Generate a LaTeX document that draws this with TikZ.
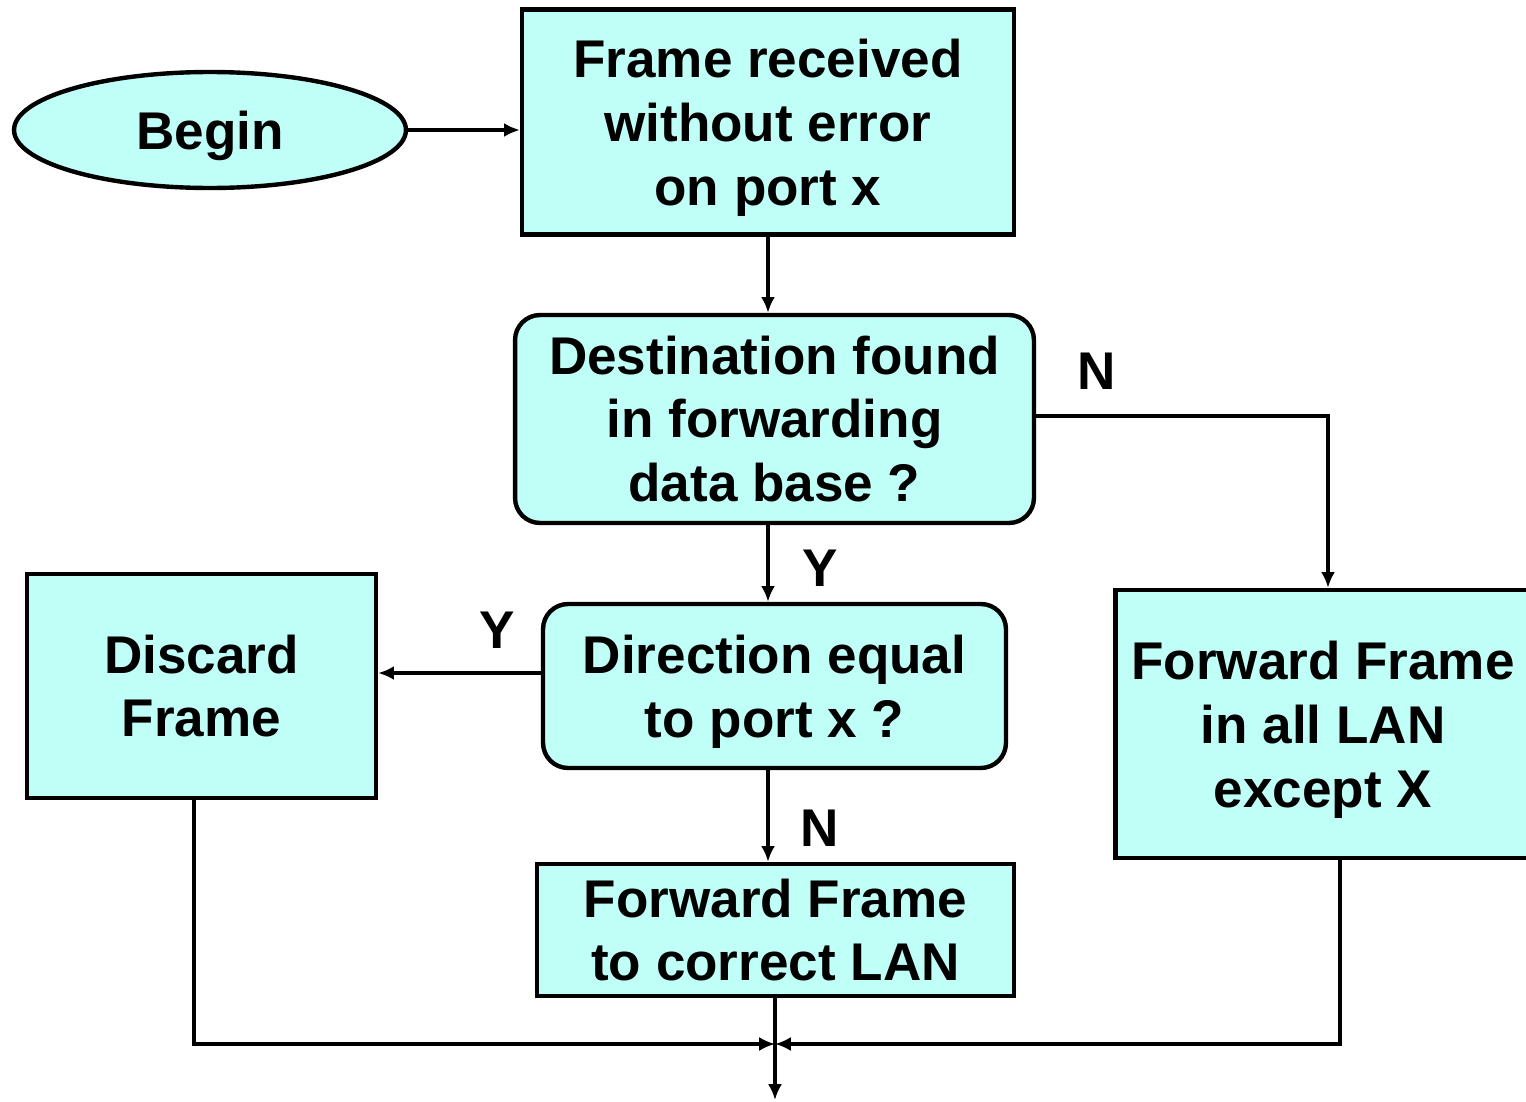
\documentclass[tikz,border=0pt]{standalone}
\usepackage{fontspec}
\setmainfont{Liberation Sans}
\usetikzlibrary{shapes.geometric,arrows.meta,positioning}
\definecolor{boxcyan}{RGB}{191,255,247}
\tikzset{
  box/.style={draw,line width=2.5pt,fill=boxcyan,align=center,inner sep=0pt,
    font=\fontsize{30.2}{36.3}\selectfont\bfseries},
  decision/.style={box,rounded corners=0.5cm},
  lowtext/.style={label={[align=center,inner sep=0pt,yshift=-0.12cm,
    font=\fontsize{30.2}{36.3}\selectfont\bfseries]center:#1}},
  flow/.style={line width=1.9pt,-{Latex[length=9pt,width=8pt]}},
  lab/.style={font=\fontsize{30.2}{36.3}\selectfont\bfseries}
}
\begin{document}
\begin{tikzpicture}[x=0.02cm,y=-0.02cm]
\useasboundingbox (0,0) rectangle (1526,1102);

\node (begin) at (210,130) [box,ellipse,minimum width=7.84cm,minimum height=2.32cm,
  lowtext={Begin}] {};
\node (recv) at (768,122) [box,minimum width=9.84cm,minimum height=4.5cm,
  lowtext={Frame received\\without error\\on port x}] {};
\node (found) at (774.5,419) [decision,minimum width=10.38cm,minimum height=4.16cm] {Destination found\\in forwarding\\data base ?};
\node (dir) at (774.5,686) [decision,minimum width=9.26cm,minimum height=3.28cm,
  lowtext={Direction equal\\to port x ?}] {};
\node (discard) at (201.5,686) [box,minimum width=6.98cm,minimum height=4.48cm] {Discard\\Frame};
\node (fwdone) at (775.5,930) [box,minimum width=9.54cm,minimum height=2.64cm] {Forward Frame\\to correct LAN};
\node (fwdall) at (1323,724) [box,minimum width=8.3cm,minimum height=5.36cm,
  lowtext={Forward Frame\\in all LAN\\except X}] {};

\node (nfound) at (1097,371) [lab] {N};
\node (yfound) at (820,568) [lab] {Y};
\node (ydir) at (497,630) [lab] {Y};
\node (ndir) at (820,828) [lab] {N};

\coordinate (join) at (775,1044);
\coordinate (out) at (775,1100);

\draw[flow] (begin) -- (begin -| recv.west);
\draw[flow] (recv.south) -- (recv.south |- found.north);
\draw[flow] (recv.south |- found.south) -- (recv.south |- dir.north);
\draw[flow] ([yshift=0.06cm]found.east) -| ([xshift=0.1cm]fwdall.north);
\draw[flow] ([yshift=0.26cm]dir.west) -- ([yshift=0.26cm]dir.west -| discard.east);
\draw[flow] (recv.south |- dir.south) -- (recv.south |- fwdone.north);
\draw[flow] ([xshift=-0.15cm]discard.south) |- (join);
\draw[flow] ([xshift=0.34cm]fwdall.south) |- (join);
\draw[flow] (fwdone.south -| join) -- (out);
\end{tikzpicture}
\end{document}
